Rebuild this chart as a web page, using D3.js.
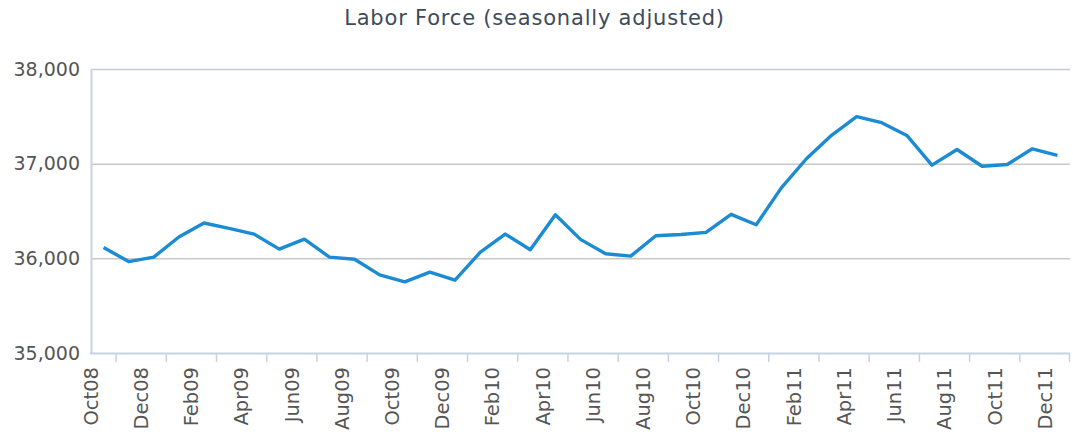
<!DOCTYPE html>
<html>
<head>
<meta charset="utf-8">
<script src="https://cdn.jsdelivr.net/npm/d3@7"></script>
<style>
  body { margin: 0; background: #fff; }
  text { font-family: "DejaVu Sans", Verdana, sans-serif; }
</style>
</head>
<body>
<div id="chart"></div>
<script>
// months Oct08 .. Dec11
const months = ["Oct08","Nov08","Dec08","Jan09","Feb09","Mar09","Apr09","May09","Jun09","Jul09",
  "Aug09","Sep09","Oct09","Nov09","Dec09","Jan10","Feb10","Mar10","Apr10","May10",
  "Jun10","Jul10","Aug10","Sep10","Oct10","Nov10","Dec10","Jan11","Feb11","Mar11",
  "Apr11","May11","Jun11","Jul11","Aug11","Sep11","Oct11","Nov11","Dec11"];

// labor force (thousands)
const laborForce = [36115,35966,36013,36225,36373,36316,36256,36097,36203,36013,
  35991,35825,35751,35854,35769,36062,36256,36090,36461,36200,
  36048,36023,36239,36252,36274,36465,36355,36744,37052,37300,
  37497,37433,37298,36984,37150,36973,36991,37157,37087];

const yTicks = [35000, 36000, 37000, 38000];

let width = 1073, height = 432;
let margin = {top: 69, right: 3, bottom: 79, left: 91};

let svg = d3.select('#chart').append('svg')
  .attr('width', width)
  .attr('height', height);

// title
svg.append('text')
  .attr('x', width / 2 - 2)
  .attr('y', 25)
  .attr('text-anchor', 'middle')
  .attr('font-size', 21)
  .attr('letter-spacing', 0.8)
  .attr('fill', '#3d4b5a')
  .text('Labor Force (seasonally adjusted)');

let x = d3.scaleBand()
  .domain(months)
  .range([margin.left, width - margin.right]);

let y = d3.scaleLinear()
  .domain([35000, 38000])
  .range([height - margin.bottom, margin.top]);

// gridlines
svg.append('g')
  .selectAll('line')
  .data(yTicks.slice(1))
  .enter().append('line')
  .attr('x1', margin.left)
  .attr('x2', width - margin.right)
  .attr('y1', d => y(d) + 0.5)
  .attr('y2', d => y(d) + 0.5)
  .attr('stroke', d => d === 38000 ? '#c3ccd6' : '#c8c8c8')
  .attr('stroke-width', 1.5);

// y axis
let yAxis = svg.append('g')
  .attr('transform', `translate(${margin.left},0)`)
  .call(d3.axisLeft(y).tickValues(yTicks).tickSize(0).tickPadding(11).tickFormat(d3.format(',')));
yAxis.select('.domain').attr('stroke', '#c5d4e4').attr('stroke-width', 2);
yAxis.selectAll('text').attr('font-size', 19).attr('fill', '#555').attr('font-family', '"DejaVu Sans", Verdana, sans-serif');

// x axis: ticks between every second month, labels on the other months
let xAxisG = svg.append('g');
xAxisG.append('line')
  .attr('x1', margin.left - 1)
  .attr('x2', width - margin.right)
  .attr('y1', y(35000) + 0.5)
  .attr('y2', y(35000) + 0.5)
  .attr('stroke', '#c5d4e4')
  .attr('stroke-width', 2);

let tickMonths = months.filter((m, i) => i % 2 === 1);
xAxisG.selectAll('.tk')
  .data(tickMonths)
  .enter().append('line')
  .attr('class', 'tk')
  .attr('x1', d => x(d))
  .attr('x2', d => x(d))
  .attr('y1', y(35000))
  .attr('y2', y(35000) + 9)
  .attr('stroke', '#c5d4e4')
  .attr('stroke-width', 1.5);
// closing tick at right end
xAxisG.append('line')
  .attr('x1', x.range()[1] - 0.5)
  .attr('x2', x.range()[1] - 0.5)
  .attr('y1', y(35000))
  .attr('y2', y(35000) + 9)
  .attr('stroke', '#c5d4e4')
  .attr('stroke-width', 1.5);

let labelMonths = months.filter((m, i) => i % 2 === 0);
xAxisG.selectAll('.lb')
  .data(labelMonths)
  .enter().append('text')
  .attr('class', 'lb')
  .attr('transform', d => `translate(${x(d)},${y(35000) + 14}) rotate(-90)`)
  .attr('text-anchor', 'end')
  .attr('dy', '0.35em')
  .attr('font-size', 19.5)
  .attr('fill', '#555')
  .text(d => d);

// the line
let line = d3.line()
  .x((d, i) => x(months[i]) + x.bandwidth() / 2)
  .y(d => y(d));

svg.append('path')
  .datum(laborForce)
  .attr('d', line)
  .attr('fill', 'none')
  .attr('stroke', '#1b8bd3')
  .attr('stroke-width', 3.4)
  .attr('stroke-linejoin', 'round');
</script>
</body>
</html>
